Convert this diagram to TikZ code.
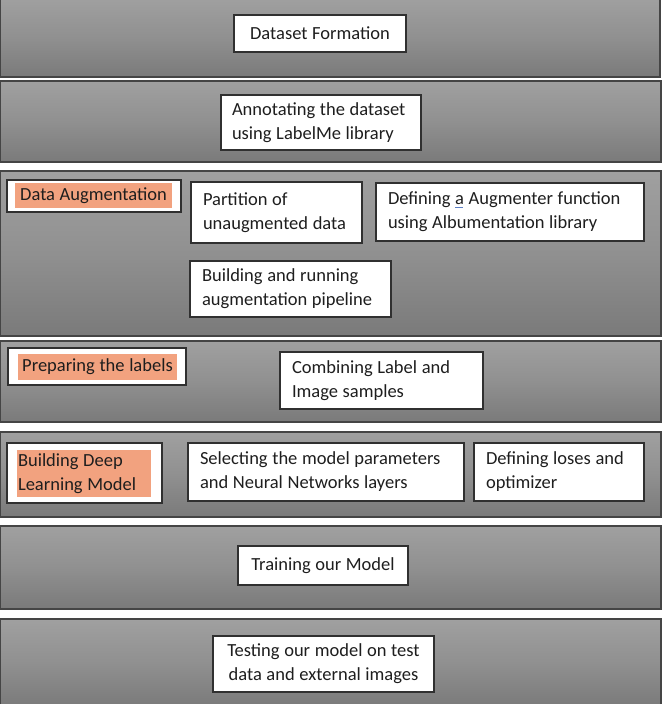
\documentclass[tikz,border=0pt]{standalone}
\usepackage{fontspec}
\setmainfont{Carlito}[WordSpace=0.85]
\usetikzlibrary{positioning}
\definecolor{bandtop}{HTML}{A0A0A0}
\definecolor{bandmid}{HTML}{909090}
\definecolor{bandbot}{HTML}{7A7A7A}
\definecolor{bandline}{HTML}{454545}
\definecolor{boxline}{HTML}{303030}
\definecolor{hlorange}{HTML}{F2A27F}
\definecolor{spellblue}{HTML}{5B7FC7}
\definecolor{txt}{HTML}{1E1E1E}
\newcommand{\boxfont}{\fontsize{18.5}{24}\selectfont}
\tikzset{
  band/.style={draw=bandline, line width=1.3pt, top color=bandtop, bottom color=bandbot, middle color=bandmid},
  box/.style={draw=boxline, fill=white, line width=1.1pt, inner xsep=12pt, inner ysep=0pt, align=left,
     text=txt, font=\boxfont, execute at begin node={\spaceskip=0.25em\relax\xspaceskip=0.25em\relax}},
  cbox/.style={box, align=center},
  hl/.style={fill=hlorange, inner sep=0pt, text=txt, font=\boxfont,
     execute at begin node={\spaceskip=0.25em\relax\xspaceskip=0.25em\relax}}
}
\begin{document}
\begin{tikzpicture}[x=1pt,y=-1pt]
\useasboundingbox (0,0) rectangle (662,704);
\fill[white] (0,0) rectangle (662,704);
% bands
\draw[band] (0,-2) rectangle (660,77);
\draw[band] (0,81) rectangle (661,162);
\draw[band] (0,171) rectangle (661,336);
\draw[band] (0,341) rectangle (661,422);
\draw[band] (0,432) rectangle (661,517);
\draw[band] (0,526) rectangle (661,609);
\draw[band] (0,619) rectangle (661,706);
% boxes
\node[cbox, minimum width=172pt, minimum height=37pt] (dataset) at (320,33.5) {Dataset Formation};
\node[box, minimum width=200pt, minimum height=55pt, text width=178pt, inner xsep=11pt] (annot) at (321,122.5) {Annotating the dataset\\using LabelMe library};
\node[box, minimum width=174pt, minimum height=32pt] (augbox) at (94,196) {};
\node[hl, minimum width=157pt, minimum height=25pt] (aug) at (93.5,195.5) {Data Augmentation};
\node[box, minimum width=171pt, minimum height=61pt, text width=147pt] (partition) at (276.5,212.5) {Partition of\\unaugmented data};
\node[box, minimum width=268pt, minimum height=58pt, text width=244pt] (defaug) at (510,212) {Defining \rlap{\color{spellblue}\rule[-3pt]{8pt}{0.9pt}}a Augmenter function\\using Albumentation library};
\node[box, minimum width=201pt, minimum height=56pt, text width=177pt] (building) at (290.5,289) {Building and running\\augmentation pipeline};
\node[box, minimum width=178pt, minimum height=37pt] (prepbox) at (97,366.5) {};
\node[hl, minimum width=159pt, minimum height=26pt] (prep) at (97.5,367) {Preparing the labels};
\node[box, minimum width=203pt, minimum height=57pt, text width=179pt] (combining) at (381.5,380.5) {Combining Label and\\Image samples};
\node[box, minimum width=155pt, minimum height=60pt] (dlbox) at (84.5,473) {};
\node[hl, minimum width=134pt, minimum height=47pt, text width=132pt, align=left, inner xsep=1pt] (dl) at (84,473.5) {Building Deep\\Learning Model};
\node[box, minimum width=276pt, minimum height=58pt, text width=252pt] (select) at (326,472) {Selecting the model parameters\\and Neural Networks layers};
\node[box, minimum width=170pt, minimum height=58pt, text width=146pt] (loses) at (559,472) {Defining loses and\\optimizer};
\node[cbox, minimum width=170pt, minimum height=39pt] (training) at (323,565.5) {Training our Model};
\node[cbox, minimum width=221pt, minimum height=56pt, text width=199pt, inner xsep=11pt] (testing) at (323.5,664) {Testing our model on test\\data and external images};
\end{tikzpicture}
\end{document}
